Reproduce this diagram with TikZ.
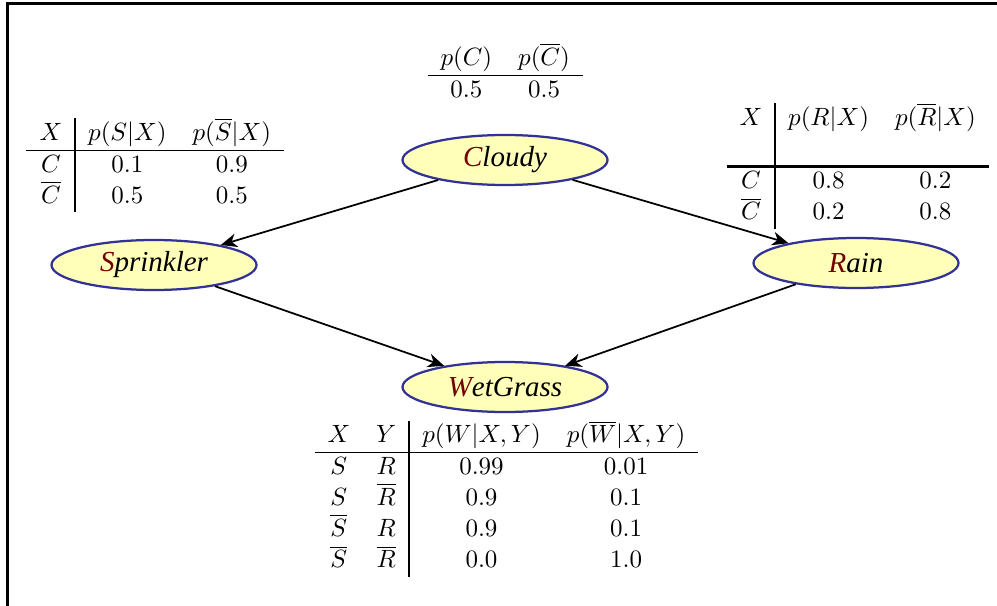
\documentclass[tikz,border=0pt]{standalone}
\usepackage{fontspec}
\usepackage{xcolor}
\usepackage{tikz}
\usetikzlibrary{shapes.geometric, arrows.meta}
\newfontfamily\nodefont{Liberation Serif}
\definecolor{NetYellow}{RGB}{255, 255, 185}
\definecolor{NetBlue}{RGB}{50, 50, 150}
\definecolor{NetRed}{RGB}{115, 0, 0}
\setlength{\tabcolsep}{5.2pt}
\setlength{\arrayrulewidth}{0.7pt}

\tikzset{
  var/.style={ellipse, draw=NetBlue, fill=NetYellow, line width=0.9pt,
              minimum width=82pt, minimum height=20pt, inner sep=0pt,
              font=\nodefont\fontsize{11.6}{13}\selectfont\itshape},
  cpt/.style={inner sep=0pt, anchor=north west},
  edge/.style={-{Stealth[length=6.5pt, width=5.5pt, inset=2pt]}, line width=0.7pt}
}
\newcommand{\first}[1]{\textcolor{NetRed}{#1}}

\begin{document}
\begin{tikzpicture}[x=0.4pt, y=-0.4pt]
  \useasboundingbox (0,0) rectangle (997,605);
  \clip (0,0) rectangle (997,605);
  \draw[line width=1.2pt] (7,700) |- (1100,3.5);

  \node[var] (cloudy)    at (505,160) {\first{C}loudy};
  \node[var] (sprinkler) at (154,265) {\first{S}prinkler};
  \node[var] (rain)      at (856,263) {\first{R}ain};
  \node[var] (wetgrass)  at (505,387) {\first{W}etGrass};

  \draw[edge] (cloudy) -- (sprinkler);
  \draw[edge] (cloudy) -- (rain);
  \draw[edge] (sprinkler) -- (wetgrass);
  \draw[edge] (rain) -- (wetgrass);

  \node[cpt] (cloudycpt) at (427,43) {%
    \begin{tabular}{cc}
      $p(C)$ & $p(\overline{C})$\\ \hline
      0.5 & 0.5
    \end{tabular}};

  \node[cpt] (sprinklercpt) at (26,118) {%
    \begin{tabular}{c|cc}
      $X$ & $p(S|X)$ & $p(\overline{S}|X)$\\ \hline
      $C$ & 0.1 & 0.9\\
      $\overline{C}$ & 0.5 & 0.5
    \end{tabular}};

  \node[cpt] (raincpt) at (726,103) {%
    \begin{tabular}{c|cc}
      $X$ & $p(R|X)$ & $p(\overline{R}|X)$\\[12pt]
      \noalign{\hrule height 1.2pt}
      $C$ & 0.8 & 0.2\\
      $\overline{C}$ & 0.2 & 0.8
    \end{tabular}};

  \node[cpt] (wetgrasscpt) at (314,420) {%
    \begin{tabular}{cc|cc}
      $X$ & $Y$ & $p(W|X,Y)$ & $p(\overline{W}|X,Y)$\\ \hline
      $S$ & $R$ & 0.99 & 0.01\\
      $S$ & $\overline{R}$ & 0.9 & 0.1\\
      $\overline{S}$ & $R$ & 0.9 & 0.1\\
      $\overline{S}$ & $\overline{R}$ & 0.0 & 1.0
    \end{tabular}};
\end{tikzpicture}
\end{document}
